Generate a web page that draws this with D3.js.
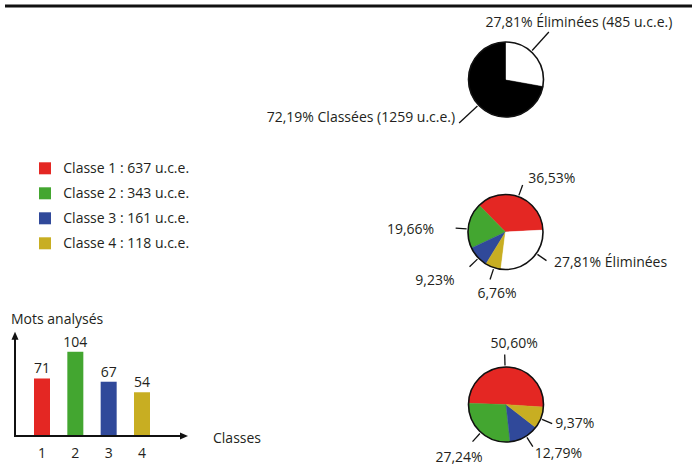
<!DOCTYPE html>
<html lang="fr">
<head>
<meta charset="UTF-8">
<title>Classification des u.c.e.</title>
<script src="https://d3js.org/d3.v7.min.js"></script>
<style>
    body { margin: 0; background: #fff; }
    svg text { font-family: "Open Sans", sans-serif; font-size: 14px; fill: #231f20; }
</style>
</head>
<body>
<div id="chart"></div>
<script>
// ---- data ----
var classNames = ['Classe 1', 'Classe 2', 'Classe 3', 'Classe 4'];
var classUce = [637, 343, 161, 118];
var classColors = ['#e42723', '#43a630', '#30499a', '#c8ae22'];

// top pie : classified vs eliminated
var splitNames = ['Classées', 'Éliminées'];
var splitPct = [72.19, 27.81];
var splitUce = [1259, 485];

// middle pie : classes + eliminated (share of all u.c.e.)
var pctAll = [36.53, 19.66, 9.23, 6.76];
var elimPct = 27.81;

// bottom pie : classes only
var pctClassified = [50.60, 27.24, 12.79, 9.37];

// bar chart : analysed words per class
var barCats = ['1', '2', '3', '4'];
var motsAnalyses = [71, 104, 67, 54];

var fr = d3.formatLocale({decimal: ',', thousands: ' ', grouping: [3], currency: ['', ' €']});
var pctFmt = fr.format('.2f');

var W = 692, H = 466;
var svg = d3.select('#chart').append('svg')
    .attr('width', W).attr('height', H);

// header rule
svg.append('line')
    .attr('x1', 5).attr('x2', W)
    .attr('y1', 6).attr('y2', 6)
    .attr('stroke', '#111').attr('stroke-width', 3);

var rad = Math.PI / 180;
var R = 37.5;

// draws one pie ; slices go counter-clockwise from startDeg
function drawPie(cx, cy, values, colors, startDeg, labels, leader) {
    var g = svg.append('g').attr('transform', 'translate(' + cx + ',' + cy + ')');
    var pie = d3.pie().sort(null).value(function(d){ return d; })
        .startAngle(startDeg * rad).endAngle((startDeg - 360) * rad);
    var arcs = pie(values);
    var arc = d3.arc().innerRadius(0).outerRadius(R);

    g.selectAll('path.slice').data(arcs).enter()
        .append('path')
        .attr('class', 'slice')
        .attr('d', arc)
        .attr('fill', function(d, i){ return colors[i]; })
        .attr('stroke', function(d, i){ return colors[i]; })
        .attr('stroke-width', 0.4);

    g.append('circle').attr('r', R)
        .attr('fill', 'none').attr('stroke', '#111').attr('stroke-width', 1.6);

    arcs.forEach(function(a, i) {
        var lb = labels[i];
        var ang = (a.startAngle + a.endAngle) / 2 + lb.nudge * rad;
        var sx = Math.sin(ang), sy = -Math.cos(ang);
        var r1 = R + 1.5, r2 = R + leader;
        g.append('line')
            .attr('x1', sx * r1).attr('y1', sy * r1)
            .attr('x2', sx * r2).attr('y2', sy * r2)
            .attr('stroke', '#111').attr('stroke-width', 1.3);
        g.append('text')
            .attr('x', sx * r2 + lb.dx).attr('y', sy * r2 + lb.dy)
            .attr('text-anchor', lb.anchor)
            .text(lb.text);
    });
}

// top pie
drawPie(506, 79.5, splitPct, ['#000', '#fff'], 0, [
    {text: pctFmt(splitPct[0]) + '% ' + splitNames[0] + ' (' + splitUce[0] + ' u.c.e.)', nudge: -3, anchor: 'end', dx: -4, dy: -1},
    {text: pctFmt(splitPct[1]) + '% ' + splitNames[1] + ' (' + splitUce[1] + ' u.c.e.)', nudge: -8, anchor: 'middle', dx: 30, dy: -5}
], 26.5);

// middle pie
drawPie(505.5, 232, pctAll.concat([elimPct]), classColors.concat(['#fff']), 87, [
    {text: pctFmt(pctAll[0]) + '%', nudge: -1.2, anchor: 'start', dx: 5.5, dy: -2},
    {text: pctFmt(pctAll[1]) + '%', nudge: -5.6, anchor: 'end', dx: -21.5, dy: 6},
    {text: pctFmt(pctAll[2]) + '%', nudge: -2.1, anchor: 'end', dx: -15, dy: 18.5},
    {text: pctFmt(pctAll[3]) + '%', nudge: -1.3, anchor: 'middle', dx: 7, dy: 18.5},
    {text: pctFmt(elimPct) + '% Éliminées', nudge: -12.1, anchor: 'start', dx: 7.5, dy: 6}
], 12.5);

// bottom pie
drawPie(506, 404.5, pctClassified, classColors, 94, [
    {text: pctFmt(pctClassified[0]) + '%', nudge: -4.4, anchor: 'middle', dx: 9.5, dy: -6.5},
    {text: pctFmt(pctClassified[1]) + '%', nudge: -0.8, anchor: 'middle', dx: -13.5, dy: 20},
    {text: pctFmt(pctClassified[2]) + '%', nudge: -3.2, anchor: 'start', dx: 2, dy: 11.5},
    {text: pctFmt(pctClassified[3]) + '%', nudge: 1.7, anchor: 'start', dx: 3, dy: 4.5}
], 12.5);

// legend
var legend = svg.append('g').attr('transform', 'translate(39,162.3)');
var lg = legend.selectAll('g').data(classNames).enter()
    .append('g')
    .attr('transform', function(d, i){ return 'translate(0,' + (i * 25) + ')'; });
lg.append('rect').attr('width', 12).attr('height', 12)
    .attr('fill', function(d, i){ return classColors[i]; });
lg.append('text').attr('x', 24.3).attr('y', 10.4)
    .text(function(d, i){ return d + ' : ' + classUce[i] + ' u.c.e.'; });

// bar chart
var xB = d3.scalePoint().domain(barCats).range([42, 142]);
var yB = d3.scaleLinear().domain([0, 120]).range([436, 338.8]);
var barW = 16, axX = 15, axY = yB(0);

var bars = svg.append('g');
bars.selectAll('rect').data(motsAnalyses).enter()
    .append('rect')
    .attr('x', function(d, i){ return xB(barCats[i]) - barW / 2; })
    .attr('y', function(d){ return yB(d); })
    .attr('width', barW)
    .attr('height', function(d){ return yB(0) - yB(d); })
    .attr('fill', function(d, i){ return classColors[i]; });
bars.selectAll('text.val').data(motsAnalyses).enter()
    .append('text').attr('class', 'val')
    .attr('x', function(d, i){ return xB(barCats[i]); })
    .attr('y', function(d){ return yB(d) - 5; })
    .attr('text-anchor', 'middle')
    .text(function(d){ return d; });
bars.selectAll('text.cat').data(barCats).enter()
    .append('text').attr('class', 'cat')
    .attr('x', function(d){ return xB(d); })
    .attr('y', 458)
    .attr('text-anchor', 'middle')
    .text(function(d){ return d; });

// axes with arrow heads
var yTop = yB.range()[1] - 7, xEnd = xB.range()[1] + 46;
svg.append('path')
    .attr('d', 'M' + axX + ',' + (axY + 1) + 'V' + (yTop + 6) + 'M' + (axX - 1) + ',' + axY + 'H' + (xEnd - 6))
    .attr('stroke', '#111').attr('stroke-width', 2).attr('fill', 'none');
svg.append('path')
    .attr('d', 'M' + axX + ',' + yTop + 'L' + (axX - 3.5) + ',' + (yTop + 8) + 'L' + (axX + 3.5) + ',' + (yTop + 8) + 'Z')
    .attr('fill', '#111');
svg.append('path')
    .attr('d', 'M' + xEnd + ',' + axY + 'L' + (xEnd - 8) + ',' + (axY - 3.5) + 'L' + (xEnd - 8) + ',' + (axY + 3.5) + 'Z')
    .attr('fill', '#111');

svg.append('text').attr('x', 11).attr('y', 324).text('Mots analysés');
svg.append('text').attr('x', 213).attr('y', 443).text('Classes');
</script>
</body>
</html>
